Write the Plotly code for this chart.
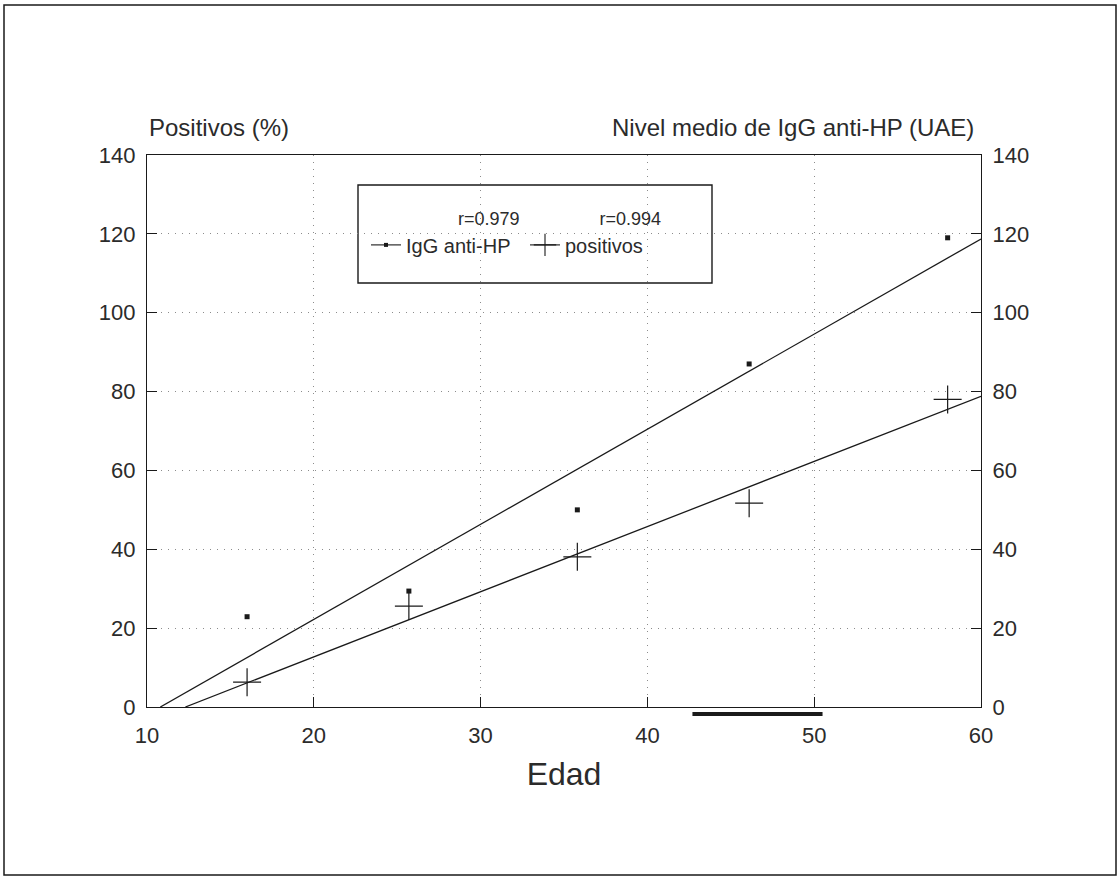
import plotly.graph_objects as go

# ---- data ----
edad_igg = [16.0, 25.7, 35.8, 46.1, 58.0]
igg_nivel = [22.9, 29.4, 50.0, 87.0, 119.0]
edad_pos = [16.0, 25.7, 35.8, 46.1, 58.0]
positivos = [6.3, 25.6, 38.1, 51.7, 78.0]

# regression lines (end points)
igg_fit_x = [10.8, 60.0]
igg_fit_y = [0.0, 118.7]
pos_fit_x = [12.3, 60.0]
pos_fit_y = [0.0, 78.8]

r_igg = "r=0.979"
r_pos = "r=0.994"

x_ticks = [10, 20, 30, 40, 50, 60]
y_ticks = [0, 20, 40, 60, 80, 100, 120, 140]

bar_x = [42.7, 50.5]  # dark bar under the x axis

FONT = "Liberation Sans, Arial, sans-serif"
INK = "#1a1a1a"
TXT = "#2b2b2b"

fig = go.Figure()

fig.add_trace(go.Scatter(x=igg_fit_x, y=igg_fit_y, mode="lines",
                         line=dict(color=INK, width=1.3), showlegend=False, hoverinfo="skip"))
fig.add_trace(go.Scatter(x=pos_fit_x, y=pos_fit_y, mode="lines",
                         line=dict(color=INK, width=1.3), showlegend=False, hoverinfo="skip"))
fig.add_trace(go.Scatter(x=edad_igg, y=igg_nivel, mode="markers",
                         marker=dict(symbol="square", size=5, color=INK),
                         showlegend=False))
fig.add_trace(go.Scatter(x=edad_pos, y=positivos, mode="markers",
                         marker=dict(symbol="cross-thin", size=20, color=INK,
                                     line=dict(color=INK, width=1.2)),
                         showlegend=False))
# legend entries
fig.add_trace(go.Scatter(x=[None], y=[None], mode="lines+markers", name="IgG anti-HP",
                         line=dict(color=INK, width=1.1),
                         marker=dict(symbol="square", size=4, color=INK)))
fig.add_trace(go.Scatter(x=[None], y=[None], mode="lines+markers", name="positivos",
                         line=dict(color=INK, width=1.1),
                         marker=dict(symbol="cross-thin", size=16, color=INK,
                                     line=dict(color=INK, width=1.1))))
# right axis carrier
fig.add_trace(go.Scatter(x=[None], y=[None], yaxis="y2", showlegend=False))

L, R, T, B = 147, 139, 155, 171
pw, ph = 1120 - L - R, 878 - T - B

def px(xp):
    return (xp - L) / pw

def py(yp):
    return (878 - B - yp) / ph

axis_common = dict(showline=True, linecolor=INK, linewidth=1.4,
                   ticks="inside", ticklen=10, tickcolor=INK, tickwidth=1.3,
                   showgrid=True, gridcolor="#8c8c8c", griddash="1px,6px", gridwidth=1,
                   zeroline=False, tickfont=dict(family=FONT, size=22, color=TXT))

fig.update_layout(
    width=1120, height=878,
    margin=dict(l=L, r=R, t=T, b=B),
    paper_bgcolor="white", plot_bgcolor="white",
    font=dict(family=FONT, color=TXT),
    xaxis=dict(range=[10, 60], tickvals=x_ticks, mirror=True,
               ticklabelstandoff=8,
               title=dict(text="Edad", font=dict(family=FONT, size=32, color=TXT), standoff=16),
               **axis_common),
    yaxis=dict(range=[0, 140], tickvals=y_ticks, ticklabelstandoff=6, **axis_common),
    yaxis2=dict(range=[0, 140], tickvals=y_ticks, overlaying="y", side="right",
                ticklabelstandoff=6,
                **{k: v for k, v in axis_common.items() if k not in ("showgrid",)},
                showgrid=False),
    showlegend=True,
    legend=dict(x=px(366), y=py(202), xanchor="left", yanchor="top",
                orientation="h", borderwidth=0, bgcolor="rgba(0,0,0,0)",
                font=dict(family=FONT, size=20, color=TXT),
                entrywidth=114, entrywidthmode="pixels",
                itemwidth=30,
                title=dict(text="\u00a0" * 18 + r_igg + "\u00a0" * 16 + r_pos, side="top",
                           font=dict(family=FONT, size=18, color=TXT))),
)

fig.add_annotation(text="Positivos (%)", xref="paper", yref="paper", x=0, y=1,
                   xanchor="left", yanchor="bottom", yshift=12, showarrow=False,
                   font=dict(family=FONT, size=24, color=TXT))
fig.add_annotation(text="Nivel medio de IgG anti-HP (UAE)", xref="paper", yref="paper",
                   x=px(976), y=1, xanchor="right", yanchor="bottom", yshift=12,
                   showarrow=False, font=dict(family=FONT, size=24, color=TXT))

# legend box
fig.add_shape(type="rect", xref="paper", yref="paper",
              x0=px(358), x1=px(712), y0=py(283), y1=py(185),
              line=dict(color=INK, width=1.4), layer="below", fillcolor="white")
# outer frame
fig.add_shape(type="rect", xref="paper", yref="paper",
              x0=px(4), x1=px(1116), y0=py(875), y1=py(5),
              line=dict(color=INK, width=1.5))
# dark bar under the axis
fig.add_shape(type="line", xref="x", yref="paper", x0=bar_x[0], x1=bar_x[1],
              y0=py(714), y1=py(714), line=dict(color=INK, width=4))

fig.write_html("out.html", config={"displayModeBar": False},
               post_script="document.body.style.margin='0';")
